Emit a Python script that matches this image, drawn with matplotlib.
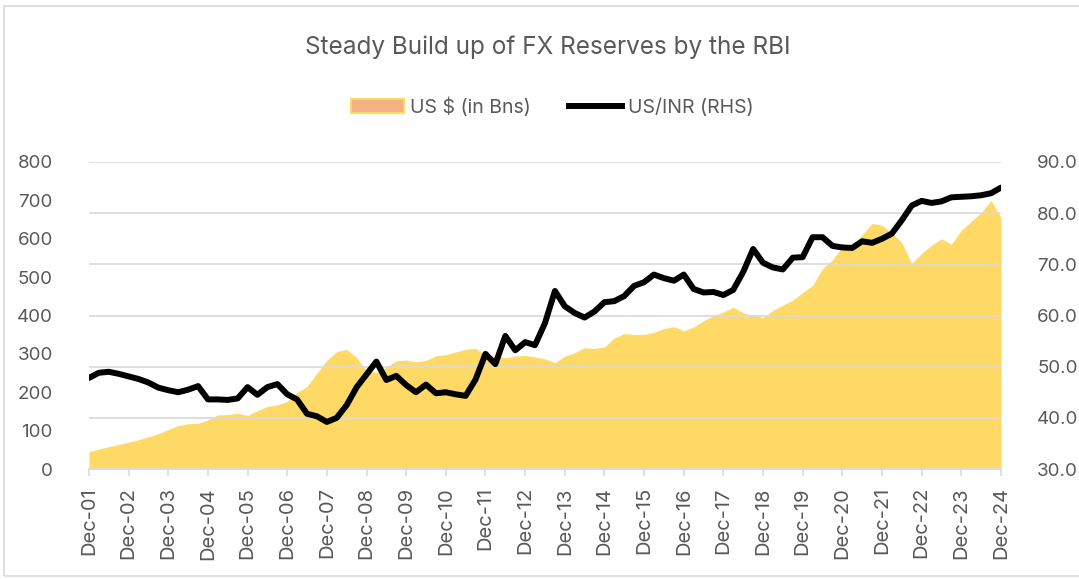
import matplotlib
matplotlib.use("Agg")
import matplotlib.pyplot as plt
import matplotlib.dates as mdates
from matplotlib.patches import Patch, Rectangle
from matplotlib.lines import Line2D
import pandas as pd

# Quarterly observations, Dec-2001 .. Dec-2024
start_date = "2001-12-01"
reserves_usd_bn = [
    45, 52, 58, 64, 70, 76, 84, 92, 103, 113, 118, 119,
    128, 141, 142, 145, 140, 152, 163, 167, 176, 199, 215, 250,
    283, 306, 312, 290, 256, 252, 265, 282, 284, 279, 283, 295,
    298, 305, 312, 314, 296, 294, 290, 294, 296, 292, 287, 277,
    294, 303, 316, 314, 318, 341, 353, 350, 351, 356, 366, 371,
    360, 370, 386, 400, 409, 422, 407, 400, 395, 413, 427, 440,
    460, 478, 522, 545, 580, 582, 610, 640, 635, 615, 590, 535,
    562, 583, 600, 586, 622, 645, 668, 700, 655,
]
usd_inr = [
    47.8, 48.8, 49.0, 48.6, 48.1, 47.6, 46.9, 45.9, 45.4, 45.0, 45.5, 46.2,
    43.6, 43.6, 43.5, 43.8, 46.0, 44.5, 46.0, 46.6, 44.6, 43.6, 40.8, 40.3,
    39.2, 40.0, 42.5, 46.0, 48.5, 51.0, 47.4, 48.2, 46.4, 45.0, 46.5, 44.8,
    45.0, 44.6, 44.3, 47.5, 52.5, 50.5, 56.0, 53.2, 54.8, 54.2, 58.5, 64.8,
    61.8, 60.5, 59.6, 60.8, 62.6, 62.8, 63.8, 65.8, 66.5, 68.0, 67.3, 66.8,
    68.0, 65.2, 64.5, 64.6, 64.0, 65.0, 68.5, 73.0, 70.3, 69.4, 69.0, 71.3,
    71.4, 75.3, 75.3, 73.6, 73.3, 73.2, 74.5, 74.2, 75.0, 76.0, 78.6, 81.5,
    82.4, 82.0, 82.3, 83.1, 83.2, 83.3, 83.5, 83.9, 85.0,
]
title = "Steady Build up of FX Reserves by the RBI"
label_res = "US $ (in Bns)"
label_fx = "US/INR (RHS)"

dates = pd.date_range(start_date, periods=len(reserves_usd_bn), freq="3MS")
tick_dates = pd.date_range(start_date, dates[-1], freq="12MS")

TEXT = "#595959"
GRID = "#D9D9D9"
AREA = "#FFD966"

plt.rcParams["font.family"] = ["Inter", "DejaVu Sans"]

fig = plt.figure(figsize=(10.79, 5.79), dpi=100)
ax = fig.add_axes([89 / 1079, 1 - 469 / 579, 912 / 1079, 307 / 579])
ax2 = ax.twinx()

# Reserves area (LHS)
ax.fill_between(dates, reserves_usd_bn, 0, color=AREA, linewidth=0, zorder=2)
ax.set_ylim(0, 800)
ax.set_yticks(range(0, 801, 100))
ax.set_xlim(dates[0], dates[-1])

# USD/INR line (RHS)
ax2.plot(dates, usd_inr, color="black", linewidth=4.3, solid_capstyle="round",
         solid_joinstyle="round", zorder=3)
ax2.set_ylim(30, 90)
ax2.set_yticks(range(30, 91, 10))
ax2.set_yticklabels([f"{v:.1f}" for v in range(30, 91, 10)])

# gridlines follow the right axis
ax.set_zorder(0)
ax2.set_zorder(1)
ax2.patch.set_visible(False)
ax2.grid(axis="y", color=GRID, linewidth=1.2, zorder=0)
ax2.set_axisbelow(True)

ax.set_xticks(tick_dates)
ax.xaxis.set_major_formatter(mdates.DateFormatter("%b-%y"))
for lbl in ax.get_xticklabels():
    lbl.set_rotation(90)
    lbl.set_va("top")
    lbl.set_ha("center")

for a in (ax, ax2):
    for s in a.spines.values():
        s.set_visible(False)
ax.spines["bottom"].set_visible(True)
ax.spines["bottom"].set_color(GRID)
ax.spines["bottom"].set_linewidth(1.2)
ax.spines["bottom"].set_zorder(5)

ax.tick_params(axis="x", colors=TEXT, labelsize=14.5, length=5, color=GRID, width=1.2, pad=8)
ax.tick_params(axis="y", colors=TEXT, labelsize=13.5, length=0, pad=26)
ax2.tick_params(axis="y", colors=TEXT, labelsize=13.5, length=0, pad=26)

# Title and legend
fig.text(0.508, 1 - 47 / 579, title, ha="center", va="center", fontsize=17.5, color=TEXT)
handles = [
    Patch(facecolor="#F4B183", edgecolor=AREA, linewidth=1.5),
    Line2D([0], [0], color="black", linewidth=4.3),
]
fig.legend(handles, [label_res, label_fx], loc="center", bbox_to_anchor=(0.512, 1 - 107 / 579),
           ncol=2, frameon=False, fontsize=14, labelcolor=TEXT, handlelength=2.7,
           handletextpad=0.3, columnspacing=2.0)

# Chart border
fig.patches.append(Rectangle((4 / 1079, 3 / 579), 1.1, 570 / 579, transform=fig.transFigure,
                             fill=False, edgecolor=GRID, linewidth=1.2))

fig.savefig("out.png", dpi=100, facecolor="white")
